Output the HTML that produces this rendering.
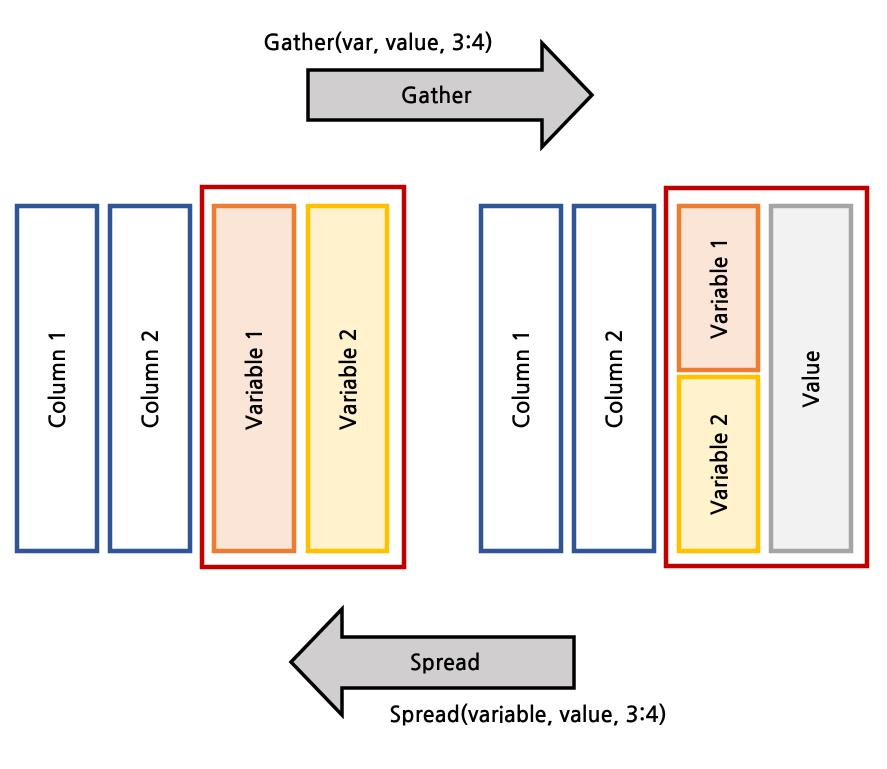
<!DOCTYPE html>
<html><head><meta charset="utf-8"><style>
html,body{margin:0;padding:0;background:#fff;}
svg text{font-family:"NanumGothic","Liberation Sans",sans-serif;font-weight:bold;fill:#000;}
</style></head><body>
<svg width="887" height="764" viewBox="0 0 887 764" xmlns="http://www.w3.org/2000/svg">
<text x="378" y="50" font-size="22" text-anchor="middle">Gather(var, value, 3:4)</text>
<polygon points="308,70 542,70 542,43 592,95 542,147 542,120 308,120" fill="#d0cece" stroke="#000" stroke-width="3.5" stroke-linejoin="miter"/>
<text x="436" y="103" font-size="22" text-anchor="middle">Gather</text>

<g stroke-width="4.5">
<rect x="17" y="206" width="80" height="345" fill="#fff" stroke="#2f5597"/>
<rect x="110" y="206" width="80" height="345" fill="#fff" stroke="#2f5597"/>
<rect x="202" y="187" width="202" height="380" fill="none" stroke="#c00000"/>
<rect x="214" y="206" width="80" height="345" fill="#fbe5d6" stroke="#ed7d31"/>
<rect x="308" y="206" width="79" height="345" fill="#fff2cc" stroke="#ffc000"/>

<rect x="481" y="206" width="80" height="345" fill="#fff" stroke="#2f5597"/>
<rect x="574" y="206" width="80" height="345" fill="#fff" stroke="#2f5597"/>
<rect x="666" y="188" width="201" height="378" fill="none" stroke="#c00000"/>
<rect x="679" y="206" width="79" height="164" fill="#fbe5d6" stroke="#ed7d31"/>
<rect x="679" y="377" width="79" height="174" fill="#fff2cc" stroke="#ffc000"/>
<rect x="771" y="206" width="80" height="345" fill="#f2f2f2" stroke="#a5a5a5"/>
</g>

<g font-size="22" text-anchor="middle">
<text transform="translate(65,379) rotate(-90)">Column 1</text>
<text transform="translate(158,379) rotate(-90)">Column 2</text>
<text transform="translate(262,379) rotate(-90)">Variable 1</text>
<text transform="translate(356,379) rotate(-90)">Variable 2</text>
<text transform="translate(529,379) rotate(-90)">Column 1</text>
<text transform="translate(622,379) rotate(-90)">Column 2</text>
<text transform="translate(727,288) rotate(-90)">Variable 1</text>
<text transform="translate(727,464) rotate(-90)">Variable 2</text>
<text transform="translate(819,379) rotate(-90)">Value</text>
</g>

<polygon points="574,637 342,637 342,609 291,662 342,715 342,688 574,688" fill="#d0cece" stroke="#000" stroke-width="3.5" stroke-linejoin="miter"/>
<text x="445" y="670" font-size="22" text-anchor="middle">Spread</text>
<text x="528" y="722" font-size="22" text-anchor="middle">Spread(variable, value, 3:4)</text>
</svg>
</body></html>
